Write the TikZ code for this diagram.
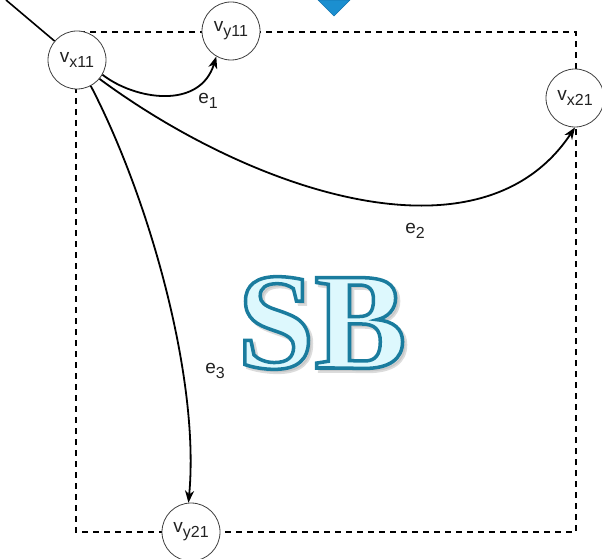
\documentclass[tikz,border=0pt]{standalone}
\usepackage{fontspec}
\setmainfont{Liberation Sans}
\newfontfamily\sbfont{Liberation Serif}
\usetikzlibrary{arrows.meta}
\definecolor{sbfill}{HTML}{DDF8FD}
\definecolor{bluetip}{HTML}{1B8FD0}
\definecolor{bluetipdark}{HTML}{1474AE}
\definecolor{txt}{HTML}{222222}
\newcommand\lblsub[2]{{\fontsize{19}{19}\selectfont #1}\raisebox{-5pt}{\fontsize{16}{16}\selectfont #2}}
\begin{document}
\begin{tikzpicture}[x=1pt,y=-1pt,
  vert/.style={circle,draw=black!75,line width=0.8pt,fill=white,minimum size=58pt,inner sep=0pt,text=txt},
  edge/.style={line width=1.8pt,-{Stealth[length=12pt,width=9pt,inset=3.5pt]}},
  elbl/.style={text=txt,inner sep=0pt},
  frame/.style={line width=1.6pt,dash pattern=on 6pt off 5pt}]
\useasboundingbox (0,0) rectangle (602,559);
% blue shape at top
\fill[bluetip,draw=bluetipdark,line width=0.6pt] (318,0) -- (350,0) -- (334,16) -- cycle;
% dashed frame
\coordinate (c1) at (76,32);
\coordinate (c2) at (576,532);
\draw[frame] (c1) rectangle (c2);
% nodes
\node[vert] (x11) at (77,60) {\lblsub{v}{x11}};
\node[vert] (y11) at (231,31) {\lblsub{v}{y11}};
\node[vert] (x21) at (575,98) {\lblsub{v}{x21}};
\node[vert] (y21) at (191,532) {\lblsub{v}{y21}};
% incoming line
\coordinate (tl) at (6,0);
\draw[line width=1.6pt] (tl) -- (x11);
% edges
\draw[edge] (x11.-30) .. controls (135,100) and (200,110) .. (y11.-120);
\draw[edge] (x11.-40) .. controls (250,190) and (480,270) .. (x21.-90);
\draw[edge] (x11.-62) .. controls (150,200) and (200,380) .. (y21.95);
% edge labels
\node[elbl] (l1) at (208,101) {\lblsub{e}{1}};
\node[elbl] (l2) at (415,231) {\lblsub{e}{2}};
\node[elbl] (l3) at (215,371) {\lblsub{e}{3}};
% SB logo: soft shadow, then filled and stroked text (text render mode 2)
\node[anchor=base,inner sep=0pt,text=black!30,opacity=0.45] (sbshadow) at (325,371) {\fontsize{138}{138}\selectfont\sbfont\bfseries\special{pdf:literal direct 0.7 0.7 0.7 RG 3.5 w 2 Tr}SB\special{pdf:literal direct 0 Tr}};
\node[anchor=base,inner sep=0pt,text=sbfill] (sb) at (322,368) {\fontsize{138}{138}\selectfont\sbfont\bfseries\special{pdf:literal direct 0.102 0.486 0.62 RG 3.5 w 2 Tr}SB\special{pdf:literal direct 0 Tr}};
\end{tikzpicture}
\end{document}
